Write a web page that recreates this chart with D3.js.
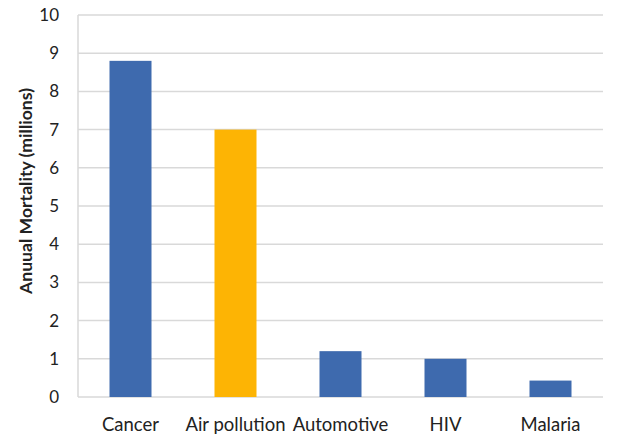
<!DOCTYPE html>
<html>
<head>
<meta charset="utf-8">
<script src="https://cdn.jsdelivr.net/npm/d3@7.9.0/dist/d3.min.js"></script>
<style>
  body { margin: 0; background: #fff; }
  text { font-family: Lato, "Open Sans", sans-serif; fill: #222; }
</style>
</head>
<body>
<svg width="640" height="436"></svg>
<script>
// data
const causes = ['Cancer', 'Air pollution', 'Automotive', 'HIV', 'Malaria'];
const deaths = [8.8, 7.0, 1.2, 1.0, 0.43];
const barColors = ['#3e6aae', '#fdb404', '#3e6aae', '#3e6aae', '#3e6aae'];
const yTicks = [0, 1, 2, 3, 4, 5, 6, 7, 8, 9, 10];

const svg = d3.select('svg');
const plotLeft = 78, plotRight = 603, plotTop = 15, plotBottom = 397;

let x = d3.scaleBand().domain(causes).range([plotLeft, plotRight]).paddingInner(0.6).paddingOuter(0.3);
let y = d3.scaleLinear().domain([0, 10]).range([plotBottom, plotTop]);

// gridlines
svg.append('g')
  .selectAll('line')
  .data(yTicks)
  .join('line')
  .attr('x1', plotLeft).attr('x2', plotRight)
  .attr('y1', d => y(d)).attr('y2', d => y(d))
  .attr('stroke', '#d9d9d9')
  .attr('stroke-width', 1.5);

// left axis line
svg.append('line')
  .attr('x1', plotLeft).attr('x2', plotLeft)
  .attr('y1', y(10)).attr('y2', y(0))
  .attr('stroke', '#d9d9d9')
  .attr('stroke-width', 1.5);

// y tick labels
svg.append('g')
  .selectAll('text')
  .data(yTicks)
  .join('text')
  .attr('x', 59)
  .attr('y', d => y(d))
  .attr('dy', '0.35em')
  .attr('text-anchor', 'end')
  .attr('font-size', 17)
  .text(d => d);

// bars
svg.append('g')
  .selectAll('rect')
  .data(causes)
  .join('rect')
  .attr('x', d => x(d))
  .attr('width', x.bandwidth())
  .attr('y', (d, i) => y(deaths[i]))
  .attr('height', (d, i) => y(0) - y(deaths[i]))
  .attr('fill', (d, i) => barColors[i]);

// x labels
svg.append('g')
  .selectAll('text')
  .data(causes)
  .join('text')
  .attr('x', d => x(d) + x.bandwidth() / 2)
  .attr('y', 431)
  .attr('text-anchor', 'middle')
  .attr('font-size', 18.5)
  .text(d => d);

// axis title
svg.append('text')
  .attr('transform', 'translate(32, 191) rotate(-90)')
  .attr('text-anchor', 'middle')
  .attr('font-size', 17.6)
  .attr('font-weight', 'bold')
  .text('Anuual Mortality (millions)');
</script>
</body>
</html>
